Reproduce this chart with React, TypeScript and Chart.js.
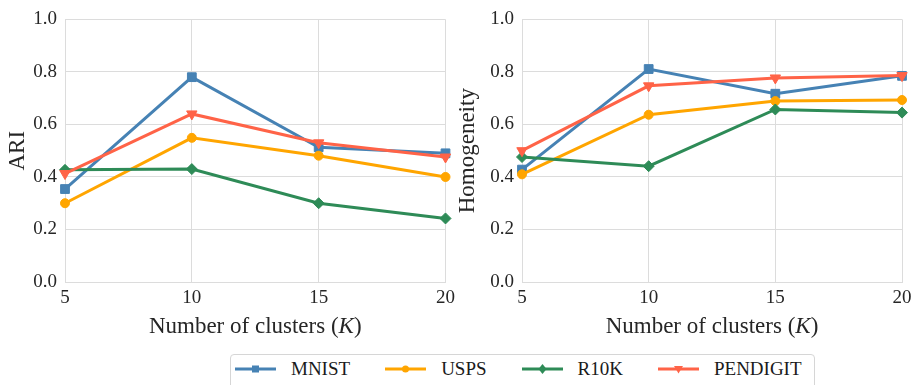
import React, { useEffect, useRef } from "react";
import { Chart, registerables } from "chart.js";

Chart.register(...registerables);

// ---------- data ----------
const K_VALUES = [5, 10, 15, 20];
const SERIES_NAMES = ["MNIST", "USPS", "R10K", "PENDIGIT"];

const ARI_MNIST = [0.354, 0.78, 0.513, 0.49];
const ARI_USPS = [0.3, 0.549, 0.481, 0.4];
const ARI_R10K = [0.427, 0.43, 0.3, 0.242];
const ARI_PENDIGIT = [0.413, 0.64, 0.53, 0.476];

const HOM_MNIST = [0.428, 0.811, 0.717, 0.785];
const HOM_USPS = [0.41, 0.637, 0.689, 0.693];
const HOM_R10K = [0.476, 0.441, 0.657, 0.645];
const HOM_PENDIGIT = [0.5, 0.747, 0.777, 0.786];

const X_TITLE_MAIN = "Number of clusters (";
const X_TITLE_ITALIC = "K";
const X_TITLE_END = ")";

// ---------- styles ----------
const FONT = "'Liberation Serif', 'Times New Roman', serif";
const COLORS = ["#4682B4", "#FFA500", "#2E8B57", "#FF6347"];
const STYLES = [
  { pointStyle: "rect", radius: 6.2, rotation: 0 },
  { pointStyle: "circle", radius: 4.5, rotation: 0 },
  { pointStyle: "rectRot", radius: 5.5, rotation: 0 },
  { pointStyle: "triangle", radius: 6, rotation: 180 },
];
const GRID = "#dcdcdc";
const TEXT = "#262626";

const xTitlePlugin = {
  id: "xTitleItalic",
  afterDraw(chart: any) {
    const { ctx, chartArea } = chart;
    const cx = (chartArea.left + chartArea.right) / 2;
    const y = chartArea.bottom + 51;
    ctx.save();
    ctx.fillStyle = TEXT;
    ctx.textBaseline = "alphabetic";
    ctx.textAlign = "left";
    const normal = `23px ${FONT}`;
    const italic = `italic 23px ${FONT}`;
    ctx.font = normal;
    const w1 = ctx.measureText(X_TITLE_MAIN).width;
    const w3 = ctx.measureText(X_TITLE_END).width;
    ctx.font = italic;
    const w2 = ctx.measureText(X_TITLE_ITALIC).width;
    let x = cx - (w1 + w2 + w3) / 2;
    ctx.font = normal;
    ctx.fillText(X_TITLE_MAIN, x, y);
    x += w1;
    ctx.font = italic;
    ctx.fillText(X_TITLE_ITALIC, x, y);
    x += w2;
    ctx.font = normal;
    ctx.fillText(X_TITLE_END, x, y);
    ctx.restore();
  },
};

function makeConfig(
  yTitle: string,
  series: number[][],
  yAxisWidth: number,
  rightPad: number,
  titlePad: number
): any {
  const datasets = series.map((vals, i) => ({
    label: SERIES_NAMES[i],
    data: K_VALUES.map((k, j) => ({ x: k, y: vals[j] })),
    borderColor: COLORS[i],
    backgroundColor: COLORS[i],
    borderWidth: 3,
    pointStyle: STYLES[i].pointStyle,
    pointRadius: STYLES[i].radius,
    pointRotation: STYLES[i].rotation,
    pointBorderWidth: 1,
    pointBorderColor: COLORS[i],
    pointBackgroundColor: COLORS[i],
    order: series.length - i,
    tension: 0,
    clip: false,
  }));
  return {
    type: "line",
    data: { datasets },
    plugins: [xTitlePlugin],
    options: {
      responsive: false,
      animation: false,
      devicePixelRatio: 1,
      layout: { padding: { top: 13, right: rightPad, bottom: 0, left: 0 } },
      plugins: { legend: { display: false }, tooltip: { enabled: false } },
      scales: {
        x: {
          type: "linear",
          min: 5,
          max: 20,
          ticks: {
            stepSize: 5,
            padding: 5,
            color: TEXT,
            font: { family: FONT, size: 19 },
          },
          grid: { color: GRID, drawTicks: false, lineWidth: 1 },
          border: { color: GRID, width: 1 },
          title: { display: false },
          afterFit: (s: any) => {
            s.height = 60;
          },
        },
        y: {
          min: 0,
          max: 1,
          ticks: {
            stepSize: 0.2,
            padding: 8,
            color: TEXT,
            font: { family: FONT, size: 19 },
            callback: (v: any) => Number(v).toFixed(1),
          },
          grid: { color: GRID, drawTicks: false, lineWidth: 1 },
          border: { color: GRID, width: 1 },
          title: {
            display: true,
            text: yTitle,
            color: TEXT,
            font: { family: FONT, size: 23 },
            padding: { top: titlePad, bottom: 0 },
          },
          afterFit: (s: any) => {
            s.width = yAxisWidth;
          },
        },
      },
    },
  };
}

function ChartCanvas(props: {
  config: () => any;
  left: number;
  width: number;
  height: number;
}) {
  const ref = useRef<HTMLCanvasElement | null>(null);
  useEffect(() => {
    if (!ref.current) return;
    const chart = new Chart(ref.current, props.config());
    return () => chart.destroy();
  }, []);
  return (
    <canvas
      ref={ref}
      width={props.width}
      height={props.height}
      style={{
        position: "absolute",
        left: props.left,
        top: 0,
        width: props.width,
        height: props.height,
        display: "block",
      }}
    />
  );
}

function LegendIcon({ i }: { i: number }) {
  const c = COLORS[i];
  const cx = 20.5;
  const cy = 7;
  let marker: any = null;
  if (i === 0) marker = <rect x={cx - 3.5} y={cy - 3.5} width={7} height={7} fill={c} />;
  else if (i === 1) marker = <circle cx={cx} cy={cy} r={3.5} fill={c} />;
  else if (i === 2)
    marker = (
      <polygon
        points={`${cx},${cy - 5} ${cx + 4},${cy} ${cx},${cy + 5} ${cx - 4},${cy}`}
        fill={c}
      />
    );
  else
    marker = (
      <polygon
        points={`${cx - 4.5},${cy - 3} ${cx + 4.5},${cy - 3} ${cx},${cy + 4.5}`}
        fill={c}
      />
    );
  return (
    <svg width={41} height={14} style={{ display: "block" }}>
      <line x1={0} y1={cy} x2={41} y2={cy} stroke={c} strokeWidth={3} />
      {marker}
    </svg>
  );
}

export default function App() {
  const CH = 342;
  return (
    <div
      style={{
        position: "absolute",
        left: 0,
        top: 0,
        width: 919,
        height: 385,
        background: "#ffffff",
        overflow: "hidden",
      }}
    >
      <ChartCanvas
        left={0}
        width={460}
        height={CH}
        config={() =>
          makeConfig("ARI", [ARI_MNIST, ARI_USPS, ARI_R10K, ARI_PENDIGIT], 65, 14, 4)
        }
      />
      <ChartCanvas
        left={452}
        width={467}
        height={CH}
        config={() =>
          makeConfig(
            "Homogeneity",
            [HOM_MNIST, HOM_USPS, HOM_R10K, HOM_PENDIGIT],
            70,
            17,
            2
          )
        }
      />
      <div
        style={{
          position: "absolute",
          left: 230,
          top: 354,
          width: 585,
          height: 40,
          boxSizing: "border-box",
          border: "1px solid #d6d6d6",
          borderRadius: 4,
          background: "#fff",
          display: "flex",
          alignItems: "flex-start",
          paddingLeft: 4,
          paddingTop: 6,
          fontFamily: FONT,
          fontSize: 19,
          color: "#1a1a1a",
        }}
      >
        {SERIES_NAMES.map((name, i) => (
          <div
            key={name}
            style={{
              display: "flex",
              alignItems: "center",
              height: 16,
              marginRight: i < SERIES_NAMES.length - 1 ? 35 : 0,
            }}
          >
            <LegendIcon i={i} />
            <span style={{ marginLeft: 15, lineHeight: "16px", whiteSpace: "nowrap" }}>
              {name}
            </span>
          </div>
        ))}
      </div>
    </div>
  );
}
